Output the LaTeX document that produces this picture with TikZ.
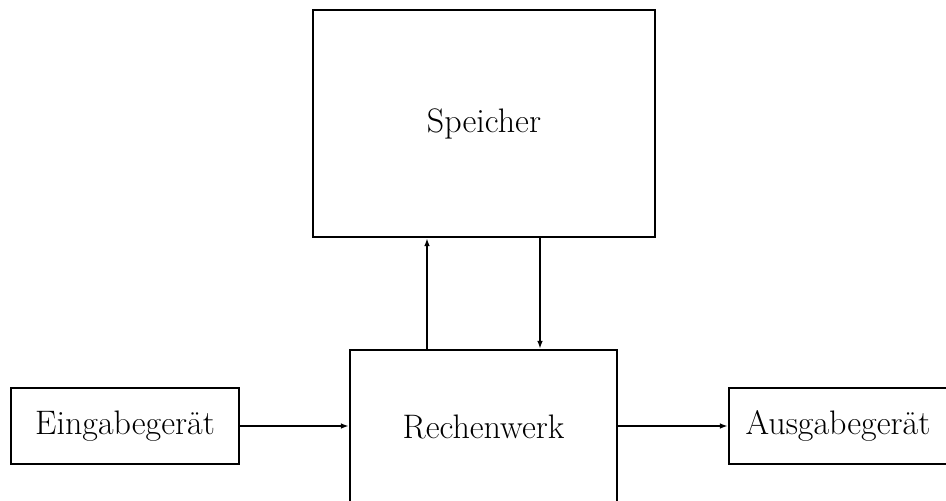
\documentclass[tikz,border=0pt]{standalone}
\usetikzlibrary{arrows.meta}
\begin{document}
\begin{tikzpicture}[x=0.5pt,y=-0.5pt,
  box/.style={draw,line width=1.1pt,inner sep=0pt,font=\fontsize{17}{20}\selectfont},
  arr/.style={line width=1.1pt,-{Latex[length=4pt,width=2.8pt]}}]
\useasboundingbox (0,0) rectangle (946,500);
\clip (0,0) rectangle (946,500);
\node[box,minimum width=342*0.5pt,minimum height=227*0.5pt] (S) at (484,123.5) {Speicher};
\node[box,minimum width=267*0.5pt,minimum height=154*0.5pt] (R) at (483.5,427) {Rechenwerk};
\node[box,minimum width=228*0.5pt,minimum height=76*0.5pt] (E) at (125,426) {Eingabegerät};
\node[box,minimum width=218*0.5pt,minimum height=76*0.5pt] (A) at (838,426) {Ausgabegerät};
\coordinate (u) at (427,0);
\coordinate (d) at (540,0);
\draw[arr] (u |- R.north) -- (u |- S.south);
\draw[arr] (d |- S.south) -- (d |- R.north);
\draw[arr] (E.east) -- (E.east -| R.west);
\draw[arr] (A.west -| R.east) -- (A.west);
\end{tikzpicture}
\end{document}
